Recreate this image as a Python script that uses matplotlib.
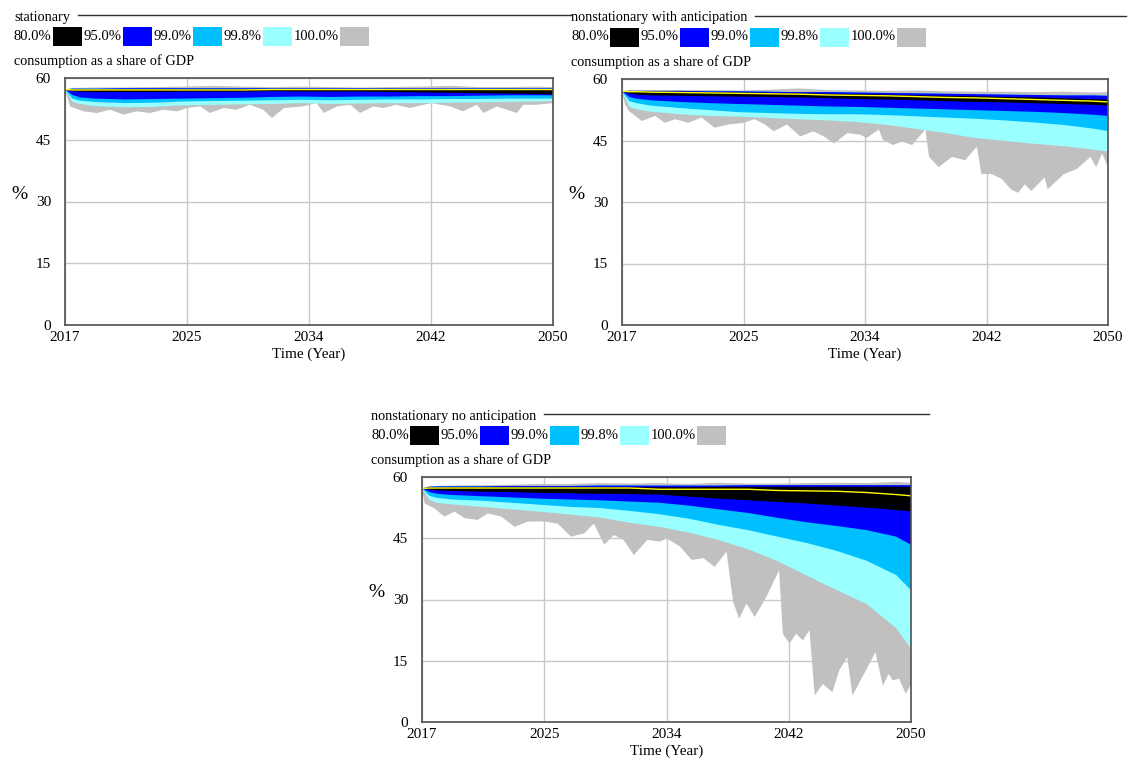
import matplotlib
matplotlib.use("Agg")
import matplotlib.pyplot as plt
from matplotlib.patches import Rectangle
from matplotlib.lines import Line2D

plt.rcParams["font.family"] = ["Liberation Serif", "DejaVu Serif"]
plt.rcParams["font.size"] = 10

W, H = 1129, 763

# shared time grid for the smooth band edges
yrs = [2017, 2017.5, 2018, 2019, 2021, 2023, 2025, 2027, 2029, 2031,
       2033, 2035, 2037, 2039, 2041, 2043, 2045, 2047, 2049, 2050]

x_ticks = [2017, 2025.25, 2033.5, 2041.75, 2050]
x_tick_labels = ["2017", "2025", "2034", "2042", "2050"]
y_ticks = [0, 15, 30, 45, 60]

level_labels = ["80.0%", "95.0%", "99.0%", "99.8%", "100.0%"]
level_colors = ["#000000", "#0000ff", "#00bfff", "#99ffff", "#c0c0c0"]
median_color = "#ffff00"

# --- stationary ---
stat_gray_hi = [57.2, 57.6, 57.6, 57.7, 57.7, 57.8, 57.9, 58.1, 57.9, 57.8,
                57.9, 57.8, 57.7, 57.8, 57.9, 58.1, 57.8, 57.8, 57.9, 57.8]
stat_band_hi = [57.2, 57.4, 57.4, 57.4, 57.5, 57.5, 57.5, 57.5, 57.5, 57.5,
                57.5, 57.5, 57.5, 57.5, 57.5, 57.5, 57.5, 57.5, 57.5, 57.5]
stat_black_hi = [57.2, 57.3, 57.3, 57.3, 57.3, 57.3, 57.3, 57.3, 57.3, 57.3,
                 57.3, 57.3, 57.3, 57.3, 57.3, 57.3, 57.3, 57.3, 57.3, 57.3]
stat_black_lo = [57.2, 56.8, 56.7, 56.6, 56.6, 56.6, 56.7, 56.7, 56.7, 56.8,
                 56.7, 56.7, 56.7, 56.6, 56.5, 56.4, 56.3, 56.2, 56.1, 56.0]
stat_blue_lo = [57.2, 55.9, 55.3, 55.0, 54.8, 54.9, 55.0, 55.1, 55.2, 55.4,
                55.5, 55.4, 55.5, 55.5, 55.6, 55.6, 55.7, 55.8, 55.8, 55.8]
stat_deep_lo = [57.2, 55.0, 54.5, 54.2, 53.9, 54.0, 54.3, 54.4, 54.5, 54.6,
                54.7, 54.6, 54.7, 54.8, 54.8, 54.9, 54.9, 55.0, 55.0, 55.0]
stat_cyan_lo = [57.2, 54.2, 53.7, 53.2, 52.9, 53.0, 53.4, 53.5, 53.6, 53.7,
                53.9, 53.7, 53.8, 53.9, 53.9, 54.0, 54.1, 54.2, 54.3, 54.4]
stat_median = [57.2, 57.1, 57.1, 57.1, 57.1, 57.1, 57.1, 57.1, 57.1, 57.2,
               57.2, 57.2, 57.2, 57.2, 57.2, 57.2, 57.2, 57.2, 57.2, 57.2]
stat_gray_lo_t = [2017, 2017.35, 2018.25, 2019.15, 2020.05, 2020.95, 2021.85, 2022.75,
                  2023.65, 2024.55, 2025.25, 2026.15, 2026.8, 2027.7, 2028.6, 2029.5,
                  2030.4, 2031.0, 2031.8, 2033.1, 2034.0, 2034.5, 2035.4, 2036.3,
                  2036.95, 2037.85, 2038.5, 2039.4, 2040.3, 2041.75, 2043.05, 2043.9,
                  2044.85, 2045.3, 2046.2, 2047.55, 2048.0, 2048.9, 2050]
stat_gray_lo = [57.2, 53.1, 51.9, 51.5, 52.3, 51.1, 51.9, 51.5,
                52.3, 51.9, 52.7, 53.1, 51.5, 52.7, 52.3, 53.5,
                52.3, 50.3, 52.7, 53.1, 53.9, 51.5, 53.1, 53.5,
                51.5, 53.1, 52.7, 53.5, 52.7, 53.9, 53.1, 51.9,
                53.5, 51.5, 53.1, 51.5, 53.5, 53.5, 53.9]

# --- nonstationary with anticipation ---
ant_gray_hi = [57.0, 57.3, 57.3, 57.3, 57.3, 57.3, 57.2, 57.4, 57.7, 57.3,
               57.2, 57.1, 57.2, 57.0, 56.9, 56.9, 56.8, 56.9, 56.7, 56.8]
ant_band_hi = [57.0, 57.1, 57.1, 57.1, 57.1, 57.0, 57.0, 56.9, 56.8, 56.8,
               56.7, 56.6, 56.5, 56.4, 56.3, 56.2, 56.1, 56.0, 56.0, 55.9]
ant_black_hi = [57.0, 57.0, 57.0, 56.9, 56.9, 56.8, 56.7, 56.6, 56.5, 56.4,
                56.3, 56.2, 56.0, 55.9, 55.8, 55.6, 55.5, 55.3, 55.1, 55.0]
ant_black_lo = [57.0, 56.5, 56.2, 56.0, 55.9, 55.8, 55.7, 55.6, 55.5, 55.3,
                55.1, 55.0, 54.8, 54.6, 54.4, 54.3, 54.1, 53.9, 53.7, 53.5]
ant_blue_lo = [57.0, 55.6, 55.2, 54.8, 54.4, 54.1, 53.9, 53.7, 53.5, 53.3,
               53.2, 53.0, 52.8, 52.6, 52.4, 52.2, 52.0, 51.7, 51.3, 51.0]
ant_deep_lo = [57.0, 54.6, 54.1, 53.5, 52.9, 52.4, 51.9, 51.7, 51.5, 51.4,
               51.4, 51.2, 50.9, 50.6, 50.3, 49.9, 49.4, 48.8, 47.9, 47.3]
ant_cyan_lo = [57.0, 53.2, 52.6, 52.0, 51.4, 51.0, 50.8, 50.5, 50.2, 49.9,
               49.5, 48.8, 47.8, 46.8, 45.6, 44.9, 44.2, 43.6, 42.8, 42.3]
ant_median = [57.0, 56.9, 56.9, 56.8, 56.7, 56.6, 56.5, 56.4, 56.3, 56.1,
              56.0, 55.9, 55.7, 55.5, 55.4, 55.2, 55.0, 54.8, 54.6, 54.4]
ant_gray_lo_t = [2017, 2017.2, 2017.45, 2018.35, 2019.25, 2019.9, 2020.6, 2021.5,
                 2022.4, 2023.3, 2024.2, 2025.25, 2026.0, 2026.7, 2027.3, 2028.2,
                 2029.1, 2030.0, 2030.7, 2031.4, 2032.3, 2033.2, 2033.6, 2034.45,
                 2034.7, 2035.4, 2036.0, 2036.7, 2037.6, 2037.85, 2038.5, 2039.4,
                 2040.3, 2041.1, 2041.4, 2042.1, 2042.8, 2043.4, 2043.9, 2044.35,
                 2044.8, 2045.7, 2045.9, 2047.0, 2047.9, 2048.8, 2049.2, 2049.6, 2050]
ant_gray_lo = [57.0, 53.9, 52.25, 49.75, 51.0, 49.3, 50.2, 49.3,
               50.6, 48.1, 48.9, 49.3, 50.2, 48.9, 47.25, 48.9,
               46.0, 47.25, 46.0, 44.3, 46.8, 46.4, 45.6, 47.7,
               45.2, 43.9, 44.75, 43.9, 47.7, 41.0, 38.5, 41.0,
               40.2, 43.5, 36.8, 36.8, 35.6, 33.1, 32.25, 34.3,
               32.7, 36.0, 33.1, 36.8, 38.1, 41.0, 38.5, 41.8, 38.5]

# --- nonstationary no anticipation ---
noant_gray_hi = [57.2, 57.8, 57.8, 57.9, 58.0, 58.1, 58.3, 58.3, 58.5, 58.4,
                 58.5, 58.3, 58.6, 58.4, 58.4, 58.5, 58.6, 58.5, 58.8, 58.6]
noant_band_hi = [57.2, 57.6, 57.7, 57.7, 57.7, 57.8, 57.8, 57.8, 57.9, 57.9,
                 57.9, 57.9, 57.9, 58.0, 58.0, 58.0, 58.0, 58.0, 58.0, 58.0]
noant_black_hi = [57.2, 57.4, 57.4, 57.4, 57.5, 57.5, 57.5, 57.5, 57.5, 57.5,
                  57.5, 57.5, 57.6, 57.6, 57.6, 57.6, 57.6, 57.6, 57.6, 57.6]
noant_black_lo = [57.2, 56.9, 56.7, 56.6, 56.4, 56.3, 56.1, 56.0, 55.9, 55.8,
                  55.7, 55.2, 54.7, 54.3, 53.9, 53.5, 53.0, 52.5, 51.9, 51.6]
noant_blue_lo = [57.2, 56.3, 55.9, 55.6, 55.3, 55.0, 54.7, 54.5, 54.3, 54.0,
                 53.7, 53.0, 52.1, 51.2, 50.0, 48.9, 48.0, 47.0, 45.4, 43.4]
noant_deep_lo = [57.2, 55.4, 54.9, 54.5, 54.2, 53.7, 53.2, 52.7, 52.4, 51.7,
                 50.9, 49.8, 48.3, 47.0, 45.4, 43.8, 41.9, 39.5, 36.0, 32.3]
noant_cyan_lo = [57.2, 54.4, 53.7, 53.3, 52.7, 52.1, 51.5, 50.8, 50.1, 48.8,
                 47.8, 46.4, 44.6, 42.3, 39.4, 35.8, 32.3, 28.9, 23.0, 17.9]
noant_median = [57.2, 57.3, 57.3, 57.3, 57.3, 57.3, 57.3, 57.3, 57.3, 57.3,
                57.0, 57.0, 57.0, 57.0, 56.7, 56.6, 56.5, 56.2, 55.7, 55.4]
noant_gray_lo_t = [2017, 2017.18, 2017.85, 2018.5, 2019.2, 2019.9, 2020.75, 2021.45,
                   2022.35, 2023.25, 2024.15, 2025.25, 2026.15, 2027.05, 2027.95, 2028.6,
                   2029.3, 2029.95, 2030.6, 2031.3, 2032.2, 2033.1, 2033.5, 2034.4,
                   2035.2, 2036.0, 2036.75, 2037.55, 2038.0, 2038.4, 2038.9, 2039.45,
                   2040.25, 2041.1, 2041.35, 2041.8, 2042.25, 2042.7, 2043.15, 2043.5,
                   2044.05, 2044.7, 2045.15, 2045.7, 2046.05, 2046.95, 2047.6, 2048.1,
                   2048.5, 2048.75, 2049.2, 2049.65, 2050]
noant_gray_lo = [57.2, 53.5, 52.3, 50.3, 51.5, 49.9, 49.5, 51.1,
                 50.3, 47.8, 49.1, 49.1, 48.6, 45.4, 46.2, 48.6,
                 43.4, 45.8, 44.6, 40.9, 44.6, 44.2, 45.0, 43.0,
                 39.7, 40.1, 38.0, 41.7, 29.4, 25.3, 29.0, 25.7,
                 30.7, 37.2, 21.6, 19.2, 21.6, 20.0, 22.5, 6.5,
                 9.3, 7.3, 12.6, 15.9, 6.5, 12.6, 17.1, 8.9,
                 11.8, 10.2, 10.6, 6.9, 9.3]

panels = [
    dict(title="stationary", box=(65, 78, 553, 325),
         gray_hi=stat_gray_hi, band_hi=stat_band_hi, black_hi=stat_black_hi,
         black_lo=stat_black_lo, blue_lo=stat_blue_lo, deep_lo=stat_deep_lo,
         cyan_lo=stat_cyan_lo, median=stat_median,
         gray_lo_t=stat_gray_lo_t, gray_lo=stat_gray_lo),
    dict(title="nonstationary with anticipation", box=(622, 79, 1108, 325),
         gray_hi=ant_gray_hi, band_hi=ant_band_hi, black_hi=ant_black_hi,
         black_lo=ant_black_lo, blue_lo=ant_blue_lo, deep_lo=ant_deep_lo,
         cyan_lo=ant_cyan_lo, median=ant_median,
         gray_lo_t=ant_gray_lo_t, gray_lo=ant_gray_lo),
    dict(title="nonstationary no anticipation", box=(422, 477, 911, 722),
         gray_hi=noant_gray_hi, band_hi=noant_band_hi, black_hi=noant_black_hi,
         black_lo=noant_black_lo, blue_lo=noant_blue_lo, deep_lo=noant_deep_lo,
         cyan_lo=noant_cyan_lo, median=noant_median,
         gray_lo_t=noant_gray_lo_t, gray_lo=noant_gray_lo),
]


def fx(x):
    return x / W


def fy(y):
    return 1 - y / H


def band(ax, t_hi, hi, t_lo, lo, color):
    xs = list(t_hi) + list(reversed(t_lo))
    ys = list(hi) + list(reversed(lo))
    ax.fill(xs, ys, color=color, lw=0, zorder=2)


fig = plt.figure(figsize=(W / 100, H / 100), dpi=100)
renderer = fig.canvas.get_renderer()

for p in panels:
    L, T, R, B = p["box"]
    ax = fig.add_axes([fx(L), fy(B), (R - L) / W, (B - T) / H])

    band(ax, yrs, p["gray_hi"], p["gray_lo_t"], p["gray_lo"], level_colors[4])
    band(ax, yrs, p["band_hi"], yrs, p["cyan_lo"], level_colors[3])
    band(ax, yrs, p["band_hi"], yrs, p["deep_lo"], level_colors[2])
    band(ax, yrs, p["band_hi"], yrs, p["blue_lo"], level_colors[1])
    band(ax, yrs, p["black_hi"], yrs, p["black_lo"], level_colors[0])
    ax.plot(yrs, p["median"], color=median_color, lw=1, zorder=3)

    ax.set_xlim(2017, 2050)
    ax.set_ylim(0, 60)
    ax.set_xticks(x_ticks)
    ax.set_xticklabels(x_tick_labels)
    ax.set_yticks(y_ticks)
    ax.tick_params(length=0, labelsize=11)
    ax.tick_params(axis="x", pad=4.5)
    ax.tick_params(axis="y", pad=10)
    ax.grid(True, color="#c8c8c8", lw=1, zorder=1)
    ax.set_axisbelow(True)
    for s in ax.spines.values():
        s.set_color("#505050")
        s.set_linewidth(1.2)
        s.set_zorder(4)

    ax.set_ylabel("%", rotation=0, fontsize=14, labelpad=0, va="center")
    ax.yaxis.set_label_coords(-46 / (R - L), 0.53)
    fig.text(fx((L + R) / 2), fy(B + 29), "Time (Year)", ha="center", va="center",
             fontsize=10.9)

    # header: title with rule, legend row, variable name
    tx = L - 51
    title = fig.text(fx(tx), fy(T - 61), p["title"], ha="left", va="center",
                     fontsize=10.3)
    tb = title.get_window_extent(renderer)
    fig.add_artist(Line2D([fx(tb.x1 + 8), fx(R + 18)], [fy(T - 63), fy(T - 63)],
                          transform=fig.transFigure, color="#303030", lw=1))

    x = tx
    for lab, col in zip(level_labels, level_colors):
        t = fig.text(fx(x), fy(T - 42), lab, ha="left", va="center", fontsize=10.5)
        bb = t.get_window_extent(renderer)
        x0 = bb.x1 + 1.5
        fig.add_artist(Rectangle((fx(x0), fy(T - 32)), 29 / W, 19 / H,
                                 transform=fig.transFigure, facecolor=col,
                                 edgecolor="none"))
        x = x0 + 30.5

    fig.text(fx(tx), fy(T - 17), "consumption as a share of GDP", ha="left",
             va="center", fontsize=10.3)

fig.savefig("out.png", dpi=100)
